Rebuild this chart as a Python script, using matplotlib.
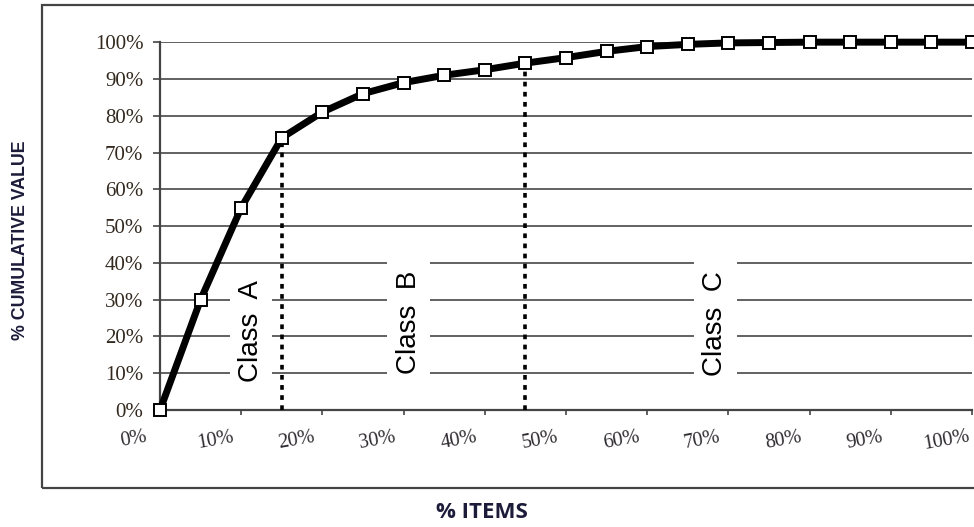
import matplotlib
matplotlib.use('Agg')
import matplotlib.pyplot as plt
import matplotlib.transforms as mtransforms
from matplotlib.patches import Rectangle

# cumulative share of value against share of items (every 5%)
pct_items = [0, 5, 10, 15, 20, 25, 30, 35, 40, 45, 50,
             55, 60, 65, 70, 75, 80, 85, 90, 95, 100]
cum_value = [0, 30, 55, 74, 81, 86, 89, 91, 92.5, 94.3, 95.8,
             97.5, 98.8, 99.4, 99.8, 99.9, 100, 100, 100, 100, 100]

# class boundaries (index into pct_items)
cut_ab = 3
cut_bc = 9
class_names = ['Class  A', 'Class  B', 'Class  C']

x_ticks = [0, 10, 20, 30, 40, 50, 60, 70, 80, 90, 100]
y_ticks = [0, 10, 20, 30, 40, 50, 60, 70, 80, 90, 100]

fig = plt.figure(figsize=(9.74, 5.27), dpi=100)
fig.patch.set_facecolor('white')

# outer chart border
fig.patches.append(Rectangle((0.0431, 0.074), 1.0, 0.9165, transform=fig.transFigure,
                             fill=False, edgecolor='#444444', linewidth=1.6))

ax = fig.add_axes([0.1643, 0.222, 0.8337, 0.698])
ax.set_xlim(0, 100)
ax.set_ylim(0, 100)

ax.set_yticks(y_ticks)
ax.set_yticklabels([f'{v}%' for v in y_ticks])
ax.set_xticks(x_ticks)
ax.set_xticklabels([f'{v}%' for v in x_ticks], rotation=10)

ax.grid(axis='y', color='#555555', linewidth=1.3, zorder=1)
ax.set_axisbelow(True)

for side in ['top', 'right']:
    ax.spines[side].set_visible(False)
for side in ['left', 'bottom']:
    ax.spines[side].set_color('#444444')
    ax.spines[side].set_linewidth(1.6)

ax.tick_params(axis='y', direction='out', length=5, width=1.2, color='#444444', pad=7,
               labelsize=15, labelcolor='#33291f')
ax.tick_params(axis='x', direction='out', length=3.5, width=1.2, color='#444444', pad=9,
               labelsize=14.5, labelcolor='#2e2a30')
for lab in ax.get_yticklabels() + ax.get_xticklabels():
    lab.set_fontfamily('Liberation Serif')

# x labels sit left of their ticks
shift = mtransforms.ScaledTranslation(-0.26, 0, fig.dpi_scale_trans)
for lab in ax.get_xticklabels():
    lab.set_transform(lab.get_transform() + shift)

# dotted class boundaries up to the curve
for i in [cut_ab, cut_bc]:
    ax.plot([pct_items[i], pct_items[i]], [0, cum_value[i]], color='black',
            linewidth=2.6, linestyle=(0, (1.3, 1.5)), zorder=3)

# class labels with white boxes that break the gridlines
label_pos = [(11.2, 21.5), (30.6, 23.8), (68.4, 23.6)]
for name, (lx, ly) in zip(class_names, label_pos):
    ax.text(lx, ly, name, rotation=90, ha='center', va='center', fontsize=20,
            family='Liberation Sans', color='black', zorder=2,
            bbox=dict(boxstyle='square,pad=0.3', facecolor='white', edgecolor='none'))

ax.plot(pct_items, cum_value, color='black', linewidth=5, marker='s', markersize=9,
        markerfacecolor='white', markeredgecolor='black', markeredgewidth=1.4,
        clip_on=False, zorder=5)

fig.text(0.021, 0.545, '% CUMULATIVE VALUE', rotation=90, ha='center', va='center',
         fontsize=12.8, fontweight='bold', family='Liberation Sans', color='#1c1c3a')
fig.text(0.495, 0.027, '% ITEMS', ha='center', va='center', fontsize=16,
         fontweight='bold', family='Open Sans', color='#1c1c3a')

fig.savefig('out.png', dpi=100, facecolor='white')
